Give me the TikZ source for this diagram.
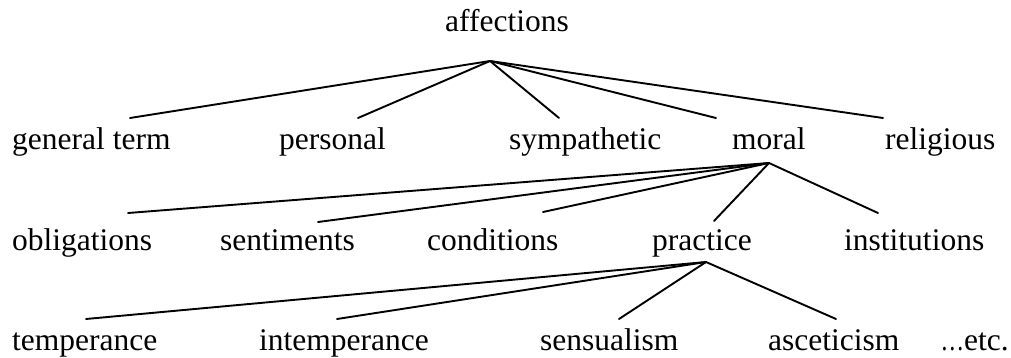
\documentclass[tikz,border=0pt]{standalone}
\usepackage{fontspec}
\setmainfont{Liberation Serif}
\begin{document}
\begin{tikzpicture}[x=1pt,y=-1pt,
  lbl/.style={anchor=base west,inner sep=0pt,font=\fontsize{31.5}{36}\selectfont},
  edge/.style={line width=1.9pt,line cap=round}]
\useasboundingbox[fill=white] (0,0) rectangle (1011,358);
% labels
\node[lbl] (affections) at (445,32) {affections};
\node[lbl] (general) at (12,150) {general term};
\node[lbl] (personal) at (279,150) {personal};
\node[lbl] (sympathetic) at (509,150) {sympathetic};
\node[lbl] (moral) at (732,150) {moral};
\node[lbl] (religious) at (885,150) {religious};
\node[lbl] (obligations) at (12,250) {obligations};
\node[lbl] (sentiments) at (220,250) {sentiments};
\node[lbl] (conditions) at (427,250) {conditions};
\node[lbl] (practice) at (652,250) {practice};
\node[lbl] (institutions) at (844,250) {institutions};
\node[lbl] (temperance) at (12,350) {temperance};
\node[lbl] (intemperance) at (259,350) {intemperance};
\node[lbl] (sensualism) at (540,350) {sensualism};
\node[lbl] (asceticism) at (768,350) {asceticism};
\node[lbl,anchor=base east] (etc) at (1009,350) {\scalebox{0.75}[1]{…}etc.};
% connector points
\coordinate (a0) at (490,61);
\coordinate (a1) at (130,118);
\coordinate (a2) at (358,118);
\coordinate (a3) at (559,118);
\coordinate (a4) at (716,118);
\coordinate (a5) at (883,118);
\coordinate (m0) at (769,163);
\coordinate (m1) at (128,213);
\coordinate (m2) at (318,222);
\coordinate (m3) at (543,212);
\coordinate (m4) at (714,221);
\coordinate (m5) at (878,213);
\coordinate (p0) at (706,262);
\coordinate (p1) at (86,319);
\coordinate (p2) at (337,319);
\coordinate (p3) at (619,319);
\coordinate (p4) at (836,319);
% connectors
\foreach \i in {1,...,5} \draw[edge] (a0) -- (a\i);
\foreach \i in {1,...,5} \draw[edge] (m0) -- (m\i);
\foreach \i in {1,...,4} \draw[edge] (p0) -- (p\i);
\end{tikzpicture}
\end{document}
